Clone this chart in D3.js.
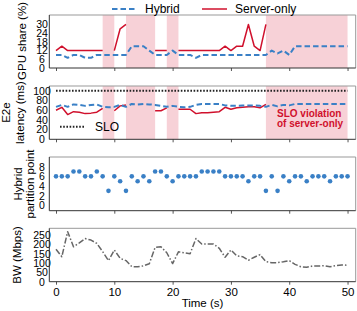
<!DOCTYPE html>
<html><head><meta charset="utf-8">
<script src="https://cdn.jsdelivr.net/npm/d3@7"></script>
<style>body{margin:0;background:#fff}svg{display:block;font-family:"Liberation Sans",Arial,sans-serif}</style>
</head><body><svg id="c" width="357" height="311"></svg>
<script>
const time = d3.range(0, 51);
const xTicks = [0, 10, 20, 30, 40, 50];
const shaded = [[8, 10], [12, 17], [19, 21], [36, 50]];
const gpuHybrid = [9,9,7,9,9,7,7,9,9,9, 9,9,9,15,15,15,12,9,9,9, 12,9,9,9,7,9,9,9,9,9, 9,9,9,9,9,9,9,12,10,12, 9,15,15,15,15,15,15,15,15,15,15];
const gpuServer = [12,15,12,12,12,12,12,12,12,null, 12,27,30,null,null,null,null,12,12,12, null,12,12,12,12,12,12,12,12,15, 12,15,15,30,15,12,30,null,null,null, null,null,null,null,null,null,null,null,null,null,null];
const latHybrid = [67,71,67,72,71,69,71,72,67,66, 67,71,67,73,72,73,72,71,69,67, 69,67,66,67,71,73,73,73,73,70, 69,69,70,70,70,69,67,71,68,71, 70,73,73,73,73,73,73,73,73,73,73];
const latServer = [60,66,51,57,56,53,54,56,64,null, 59,69,71,null,null,null,null,59,59,65, null,62,62,62,53,55,55,56,57,66, 62,65,66,67,67,65,72,null,null,null, null,null,null,null,null,null,null,null,null,null,null];
const sloValue = 100;
const partition = [6,6,6,7,7,6,6,7,6,3, 6,5,3,6,5,6,5,7,7,6, 5,6,6,6,6,7,7,7,7,6, 6,6,6,5,6,6,3,6,3,6, 5,6,6,5,6,6,6,5,6,6,6];
const bandwidth = [174,134,268,187,208,231,223,205,161,113, 170,125,113,81,80,85,96,184,187,155, 97,160,155,150,231,202,202,202,179,131, 170,138,134,115,131,145,107,102,102,107, 113,93,80,77,84,84,86,80,86,90,88];
const gpuTicks = [0,6,12,18,24,30];
const latTicks = [0,20,40,60,80,100];
const partTicks = [0,2,4,6,8];
const bwTicks = [0,50,100,150,200,250];

const BLUE = "#3a80c6", RED = "#d0102c", PINK = "#f7d1d7", GRAY = "#666";
const svg = d3.select("#c");
const L = 49.3, R = 355.7;
const x = d3.scaleLinear().domain([-1.15, 51.4]).range([L, R]);

function panel(top, bottom, domain, ticks, opts) {
  const y = d3.scaleLinear().domain(domain).range([bottom, top]);
  const g = svg.append("g");
  if (opts.shade) {
    shaded.forEach(s => g.append("rect").attr("x", x(s[0])).attr("width", x(s[1]) - x(s[0]))
      .attr("y", top).attr("height", bottom - top).attr("fill", PINK));
  }
  const ya = d3.axisLeft(y).tickValues(ticks).tickSize(0).tickPadding(0);
  const ag = g.append("g").attr("transform", `translate(${L},0)`).call(ya);
  ag.select(".domain").remove();
  ag.selectAll("text").attr("x", 42 - L).attr("text-anchor", "middle").attr("font-size", 10.5)
    .attr("fill", "#000").attr("font-family", "Liberation Sans, Arial, sans-serif");
  const xa = d3.axisBottom(x).tickValues(xTicks).tickSize(3).tickPadding(3)
    .tickFormat(opts.xLabels ? d3.format("d") : () => "");
  const xg = g.append("g").attr("transform", `translate(0,${bottom})`).call(xa);
  xg.select(".domain").remove();
  xg.selectAll("line").attr("stroke", "#555");
  xg.selectAll("text").attr("font-size", 11.5).attr("fill", "#000")
    .attr("font-family", "Liberation Sans, Arial, sans-serif");
  return {g, y, top, bottom};
}
function frame(p) {
  const g = p.g;
  g.append("line").attr("x1", L).attr("x2", R).attr("y1", p.top).attr("y2", p.top).attr("stroke", "#999");
  g.append("line").attr("x1", R).attr("x2", R).attr("y1", p.top).attr("y2", p.bottom).attr("stroke", "#999");
  g.append("line").attr("x1", L).attr("x2", L).attr("y1", p.top).attr("y2", p.bottom).attr("stroke", "#333");
  g.append("line").attr("x1", L).attr("x2", R).attr("y1", p.bottom).attr("y2", p.bottom).attr("stroke", "#333");
}
function ylabel(lines, xs, cy) {
  lines.forEach((t, i) => svg.append("text").attr("transform", `translate(${xs[i]},${cy}) rotate(-90)`)
    .attr("text-anchor", "middle").attr("font-size", 11.5).attr("fill", "#000").text(t));
}
function lineOf(p, vals, color, width, dash) {
  const gen = d3.line().defined(d => d[1] != null).x(d => x(d[0])).y(d => p.y(d[1]));
  p.g.append("path").datum(time.map((t, i) => [t, vals[i]])).attr("d", gen)
    .attr("fill", "none").attr("stroke", color).attr("stroke-width", width)
    .attr("stroke-dasharray", dash || null).attr("stroke-linejoin", "round");
}

// Panel 1
const p1 = panel(15, 68, [0, 36.5], gpuTicks, {shade: true});
lineOf(p1, gpuServer, RED, 1.5);
lineOf(p1, gpuHybrid, BLUE, 2, "5.5,3");
frame(p1);
ylabel(["GPU share (%)"], [26], 41);

// Panel 2
const p2 = panel(86, 139.3, [0, 110], latTicks, {shade: true});
p2.g.append("line").attr("x1", x(0)).attr("x2", x(50)).attr("y1", p2.y(sloValue)).attr("y2", p2.y(sloValue))
  .attr("stroke", "#222").attr("stroke-width", 2).attr("stroke-dasharray", "1.6,1.6");
lineOf(p2, latServer, RED, 1.5);
lineOf(p2, latHybrid, BLUE, 2, "5.5,3");
frame(p2);
p2.g.append("line").attr("x1", 60).attr("x2", 84).attr("y1", 126.7).attr("y2", 126.7)
  .attr("stroke", "#222").attr("stroke-width", 2).attr("stroke-dasharray", "1.6,1.6");
p2.g.append("text").attr("x", 95).attr("y", 131).attr("font-size", 12).text("SLO");
p2.g.append("text").attr("x", 277).attr("y", 117).attr("font-size", 10).attr("font-weight", "bold")
  .attr("fill", RED).text("SLO violation");
p2.g.append("text").attr("x", 277).attr("y", 126.5).attr("font-size", 10).attr("font-weight", "bold")
  .attr("fill", RED).text("of server-only");
ylabel(["E2e", "latency (ms)"], [10, 23.5], 112.6);

// Panel 3
const p3 = panel(157, 210.7, [-1.1, 10], partTicks, {});
p3.g.selectAll("circle.pt").data(time).join("circle").attr("class", "pt")
  .attr("cx", d => x(d)).attr("cy", (d, i) => p3.y(partition[i])).attr("r", 2.3).attr("fill", BLUE);
frame(p3);
ylabel(["Hybrid", "partition point"], [21.5, 33.5], 184);

// Panel 4
const p4 = panel(228.3, 281.7, [0, 286], bwTicks, {xLabels: true});
lineOf(p4, bandwidth, GRAY, 1.5, "6,2,1.5,2");
frame(p4);
ylabel(["BW (Mbps)"], [20.5], 255);
svg.append("text").attr("x", 202.5).attr("y", 307).attr("text-anchor", "middle").attr("font-size", 11.5).text("Time (s)");

// Legend
svg.append("line").attr("x1", 112).attr("x2", 136).attr("y1", 9).attr("y2", 9)
  .attr("stroke", BLUE).attr("stroke-width", 2).attr("stroke-dasharray", "5.5,3");
svg.append("text").attr("x", 145).attr("y", 13).attr("font-size", 12).text("Hybrid");
svg.append("line").attr("x1", 202).attr("x2", 227).attr("y1", 9).attr("y2", 9)
  .attr("stroke", RED).attr("stroke-width", 1.5);
svg.append("text").attr("x", 235).attr("y", 13).attr("font-size", 12).text("Server-only");
</script></body></html>
